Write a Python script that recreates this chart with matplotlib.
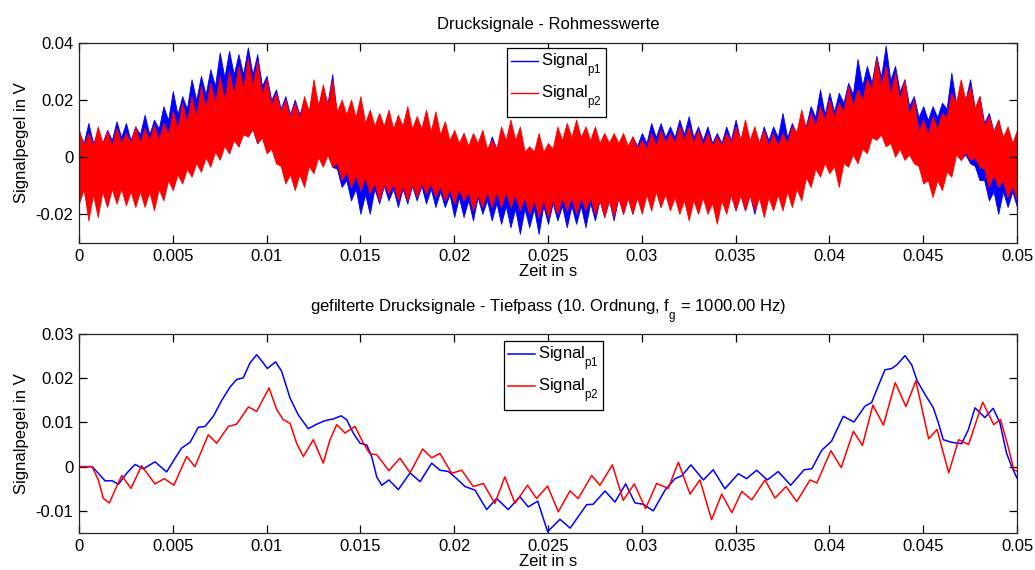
import numpy as np
import matplotlib
matplotlib.use("Agg")
import matplotlib.pyplot as plt
import matplotlib._mathtext as mtext
from matplotlib.ticker import FuncFormatter

plt.rcParams['font.family'] = ['Liberation Sans', 'DejaVu Sans']
plt.rcParams['mathtext.fontset'] = 'custom'
plt.rcParams['mathtext.rm'] = 'Liberation Sans'
plt.rcParams['mathtext.it'] = 'Liberation Sans:italic'
# lower subscripts a bit more, like the usual tex-style indices
mtext.FontConstantsBase.subdrop = 1.6
mtext.FontConstantsBase.sub1 = 0.9

# %% raw signals: spike tops / bottoms every 0.5 ms ...
t_raw = np.linspace(0, 0.05, 101)

p1_hi = [0.0085, 0.0120, 0.0085, 0.0096, 0.0126, 0.0120, 0.0108, 0.0149, 0.0132, 0.0179,
         0.0232, 0.0214, 0.0273, 0.0285, 0.0308, 0.0367, 0.0373, 0.0361, 0.0385, 0.0361,
         0.0285, 0.0238, 0.0214, 0.0202, 0.0202, 0.0244, 0.0238, 0.0291, 0.0179, 0.0179,
         0.0191, 0.0155, 0.0144, 0.0132, 0.0120, 0.0132, 0.0120, 0.0108, 0.0096, 0.0085,
         0.0073, 0.0085, 0.0049, 0.0061, 0.0073, 0.0073, 0.0061, 0.0049, 0.0038, 0.0038,
         0.0049, 0.0061, 0.0073, 0.0061, 0.0049, 0.0061, 0.0049, 0.0061, 0.0061, 0.0073,
         0.0085, 0.0120, 0.0120, 0.0108, 0.0132, 0.0144, 0.0108, 0.0108, 0.0085, 0.0108,
         0.0132, 0.0108, 0.0096, 0.0108, 0.0108, 0.0155, 0.0120, 0.0132, 0.0179, 0.0238,
         0.0226, 0.0226, 0.0261, 0.0344, 0.0320, 0.0355, 0.0391, 0.0320, 0.0273, 0.0214,
         0.0179, 0.0179, 0.0191, 0.0296, 0.0238, 0.0273, 0.0214, 0.0155, 0.0132, 0.0096,
         0.0073]
p1_lo = [-0.0151, -0.0198, -0.0151, -0.0168, -0.0139, -0.0139, -0.0127, -0.0127, -0.0162, -0.0139,
         -0.0104, -0.0080, -0.0056, -0.0033, -0.0021, 0.0002, 0.0014, 0.0038, 0.0073, 0.0049,
         0.0026, -0.0009, -0.0080, -0.0080, -0.0068, -0.0039, -0.0021, -0.0033, -0.0104, -0.0151,
         -0.0198, -0.0198, -0.0162, -0.0151, -0.0174, -0.0162, -0.0151, -0.0162, -0.0174, -0.0174,
         -0.0209, -0.0209, -0.0221, -0.0198, -0.0221, -0.0233, -0.0245, -0.0268, -0.0245, -0.0268,
         -0.0233, -0.0221, -0.0245, -0.0233, -0.0245, -0.0221, -0.0209, -0.0221, -0.0198, -0.0198,
         -0.0186, -0.0162, -0.0174, -0.0162, -0.0151, -0.0151, -0.0174, -0.0186, -0.0174, -0.0174,
         -0.0186, -0.0186, -0.0198, -0.0174, -0.0174, -0.0174, -0.0104, -0.0080, -0.0045, -0.0033,
         -0.0021, -0.0009, 0.0026, 0.0038, 0.0061, 0.0073, 0.0085, 0.0061, 0.0049, 0.0002,
         -0.0033, -0.0033, -0.0009, 0.0002, -0.0009, -0.0021, -0.0080, -0.0151, -0.0198, -0.0174,
         -0.0174]
p2_hi = [0.0096, 0.0085, 0.0108, 0.0091, 0.0102, 0.0085, 0.0108, 0.0102, 0.0114, 0.0120,
         0.0161, 0.0191, 0.0214, 0.0249, 0.0261, 0.0285, 0.0302, 0.0320, 0.0349, 0.0338,
         0.0273, 0.0226, 0.0202, 0.0191, 0.0214, 0.0273, 0.0255, 0.0273, 0.0202, 0.0202,
         0.0214, 0.0167, 0.0155, 0.0167, 0.0149, 0.0179, 0.0144, 0.0167, 0.0161, 0.0126,
         0.0096, 0.0085, 0.0085, 0.0096, 0.0061, 0.0108, 0.0132, 0.0108, 0.0038, 0.0085,
         0.0049, 0.0108, 0.0120, 0.0132, 0.0108, 0.0108, 0.0085, 0.0085, 0.0085, 0.0073,
         0.0061, 0.0085, 0.0096, 0.0085, 0.0108, 0.0108, 0.0096, 0.0085, 0.0073, 0.0085,
         0.0108, 0.0132, 0.0108, 0.0096, 0.0085, 0.0085, 0.0108, 0.0167, 0.0155, 0.0179,
         0.0202, 0.0191, 0.0249, 0.0238, 0.0273, 0.0344, 0.0320, 0.0296, 0.0273, 0.0202,
         0.0132, 0.0144, 0.0155, 0.0226, 0.0273, 0.0249, 0.0214, 0.0144, 0.0132, 0.0108,
         0.0096]
p2_lo = [-0.0162, -0.0221, -0.0209, -0.0174, -0.0162, -0.0168, -0.0174, -0.0174, -0.0186, -0.0151,
         -0.0115, -0.0092, -0.0068, -0.0051, -0.0033, -0.0009, 0.0014, 0.0038, 0.0073, 0.0049,
         0.0014, -0.0021, -0.0092, -0.0115, -0.0104, -0.0056, -0.0033, -0.0033, -0.0080, -0.0104,
         -0.0115, -0.0127, -0.0151, -0.0127, -0.0151, -0.0151, -0.0139, -0.0127, -0.0139, -0.0151,
         -0.0162, -0.0151, -0.0186, -0.0174, -0.0174, -0.0174, -0.0174, -0.0186, -0.0198, -0.0209,
         -0.0209, -0.0198, -0.0186, -0.0198, -0.0186, -0.0198, -0.0209, -0.0209, -0.0198, -0.0198,
         -0.0198, -0.0186, -0.0174, -0.0186, -0.0198, -0.0221, -0.0198, -0.0198, -0.0233, -0.0198,
         -0.0186, -0.0186, -0.0186, -0.0209, -0.0186, -0.0186, -0.0174, -0.0151, -0.0104, -0.0068,
         -0.0056, -0.0104, -0.0033, -0.0021, 0.0014, 0.0061, 0.0038, 0.0002, -0.0009, -0.0021,
         -0.0092, -0.0139, -0.0115, -0.0068, -0.0009, -0.0009, -0.0033, -0.0104, -0.0104, -0.0139,
         -0.0151]

# ... and the edge of the dense core in between (t = 0.25 ms, 0.75 ms, ...)
p1_hi_core = [0.005, 0.005, 0.005, 0.006, 0.007, 0.006, 0.008, 0.008, 0.010, 0.013,
              0.015, 0.017, 0.020, 0.022, 0.025, 0.028, 0.029, 0.029, 0.029, 0.025,
              0.020, 0.017, 0.015, 0.015, 0.016, 0.018, 0.019, 0.014, 0.013, 0.013,
              0.011, 0.009, 0.008, 0.007, 0.007, 0.007, 0.006, 0.005, 0.004, 0.003,
              0.003, 0.002, 0.001, 0.002, 0.003, 0.002, 0.001, 0.000, 0.000, 0.000,
              0.001, 0.002, 0.002, 0.001, 0.001, 0.001, 0.001, 0.002, 0.003, 0.004,
              0.005, 0.007, 0.007, 0.007, 0.008, 0.007, 0.006, 0.005, 0.005, 0.006,
              0.006, 0.005, 0.005, 0.006, 0.007, 0.007, 0.008, 0.011, 0.014, 0.015,
              0.016, 0.019, 0.022, 0.025, 0.026, 0.028, 0.027, 0.023, 0.018, 0.014,
              0.013, 0.014, 0.017, 0.019, 0.020, 0.017, 0.012, 0.009, 0.006, 0.004]
p1_lo_core = [-0.011, -0.012, -0.011, -0.010, -0.009, -0.009, -0.009, -0.010, -0.010, -0.007,
              -0.005, -0.003, -0.001, 0.001, 0.003, 0.005, 0.007, 0.010, 0.010, 0.007,
              0.004, -0.002, -0.004, -0.003, -0.001, 0.001, 0.001, -0.004, -0.008, -0.011,
              -0.013, -0.011, -0.010, -0.011, -0.011, -0.010, -0.010, -0.011, -0.012, -0.013,
              -0.014, -0.015, -0.014, -0.015, -0.016, -0.017, -0.018, -0.018, -0.018, -0.017,
              -0.016, -0.017, -0.017, -0.017, -0.016, -0.015, -0.015, -0.014, -0.014, -0.013,
              -0.012, -0.011, -0.011, -0.010, -0.010, -0.011, -0.012, -0.012, -0.012, -0.013,
              -0.013, -0.013, -0.013, -0.012, -0.012, -0.007, -0.005, -0.002, -0.001, 0.000,
              0.001, 0.004, 0.006, 0.008, 0.010, 0.011, 0.010, 0.008, 0.005, 0.001,
              -0.001, 0.001, 0.003, 0.002, 0.001, -0.003, -0.008, -0.012, -0.012, -0.012]
p2_hi_core = [0.004, 0.004, 0.005, 0.004, 0.005, 0.005, 0.005, 0.006, 0.006, 0.008,
              0.010, 0.012, 0.014, 0.017, 0.019, 0.020, 0.022, 0.024, 0.025, 0.022,
              0.018, 0.016, 0.014, 0.014, 0.016, 0.018, 0.018, 0.016, 0.015, 0.014,
              0.012, 0.011, 0.011, 0.010, 0.011, 0.010, 0.010, 0.009, 0.008, 0.006,
              0.005, 0.004, 0.005, 0.003, 0.003, 0.006, 0.006, 0.002, 0.002, 0.002,
              0.003, 0.006, 0.007, 0.007, 0.006, 0.005, 0.005, 0.005, 0.004, 0.003,
              0.003, 0.004, 0.005, 0.005, 0.006, 0.005, 0.004, 0.004, 0.004, 0.005,
              0.006, 0.006, 0.005, 0.004, 0.004, 0.005, 0.009, 0.010, 0.011, 0.013,
              0.014, 0.016, 0.018, 0.020, 0.024, 0.025, 0.022, 0.020, 0.015, 0.009,
              0.008, 0.010, 0.014, 0.019, 0.020, 0.017, 0.011, 0.009, 0.007, 0.005]
p2_lo_core = [-0.011, -0.013, -0.012, -0.011, -0.011, -0.012, -0.012, -0.012, -0.011, -0.008,
              -0.006, -0.004, -0.002, 0.000, 0.002, 0.004, 0.006, 0.008, 0.010, 0.007,
              0.003, -0.003, -0.006, -0.006, -0.003, 0.000, 0.001, -0.002, -0.005, -0.006,
              -0.007, -0.009, -0.009, -0.009, -0.010, -0.009, -0.009, -0.009, -0.010, -0.011,
              -0.011, -0.012, -0.013, -0.012, -0.012, -0.012, -0.013, -0.014, -0.015, -0.015,
              -0.015, -0.014, -0.014, -0.014, -0.014, -0.015, -0.015, -0.014, -0.014, -0.014,
              -0.013, -0.012, -0.013, -0.014, -0.015, -0.015, -0.014, -0.016, -0.015, -0.013,
              -0.013, -0.013, -0.014, -0.014, -0.013, -0.012, -0.011, -0.007, -0.004, -0.002,
              -0.003, -0.002, 0.001, 0.003, 0.007, 0.008, 0.005, 0.003, 0.001, -0.003,
              -0.008, -0.008, -0.005, 0.001, 0.002, 0.000, -0.004, -0.006, -0.008, -0.010]

# %% low-pass filtered signals (turning points)
t_f1 = [0.0, 0.0007, 0.00103, 0.00139, 0.00178, 0.0021, 0.00254, 0.00299, 0.00343, 0.00405,
        0.00467, 0.00512, 0.00547, 0.00592, 0.00636, 0.00672, 0.00716, 0.00761, 0.00805, 0.0084,
        0.00876, 0.00912, 0.00947, 0.00974, 0.01004, 0.01048, 0.0108, 0.01125, 0.01169, 0.01222,
        0.01267, 0.01311, 0.01356, 0.01397, 0.01427, 0.01462, 0.01498, 0.01534, 0.0156, 0.01587,
        0.01614, 0.01652, 0.01702, 0.01765, 0.01818, 0.0188, 0.01924, 0.01969, 0.02013, 0.02058,
        0.02111, 0.02173, 0.02226, 0.02288, 0.0235, 0.02395, 0.02445, 0.02498, 0.02564, 0.02618,
        0.02706, 0.02741, 0.02804, 0.02857, 0.02914, 0.02964, 0.03008, 0.03061, 0.03124, 0.03177,
        0.03212, 0.03262, 0.03328, 0.03381, 0.03443, 0.03514, 0.03559, 0.03612, 0.03669, 0.03727,
        0.03794, 0.03865, 0.03906, 0.03959, 0.04012, 0.04074, 0.04131, 0.0419, 0.04225, 0.04261,
        0.04296, 0.04332, 0.04359, 0.04403, 0.04439, 0.04468, 0.04509, 0.04554, 0.04581, 0.04607,
        0.04652, 0.04705, 0.04741, 0.04776, 0.04829, 0.04873, 0.04909, 0.04944, 0.04971, 0.05]
v_f1 = [0.0, 0.0, -0.0015, -0.0032, -0.0032, -0.0040, -0.0015, 0.0005, -0.0005, 0.0011,
        -0.0012, 0.0019, 0.0042, 0.0055, 0.0089, 0.0091, 0.0114, 0.0150, 0.0180, 0.0197,
        0.0201, 0.0235, 0.0253, 0.0239, 0.0222, 0.0237, 0.0216, 0.0155, 0.0117, 0.0086,
        0.0096, 0.0104, 0.0108, 0.0115, 0.0106, 0.0076, 0.0053, 0.0049, 0.0023, -0.0023,
        -0.0042, -0.0030, -0.0052, -0.0014, -0.0034, 0.0008, -0.0008, -0.0011, -0.0027, -0.0045,
        -0.0053, -0.0097, -0.0072, -0.0097, -0.0068, -0.0091, -0.0078, -0.0147, -0.0119, -0.0139,
        -0.0086, -0.0085, -0.0055, -0.0080, -0.0039, -0.0082, -0.0085, -0.0100, -0.0053, -0.0027,
        -0.0021, 0.0004, -0.0030, -0.0007, -0.0050, -0.0016, -0.0027, -0.0008, -0.0030, -0.0011,
        -0.0042, -0.0007, -0.0005, 0.0037, 0.0058, 0.0114, 0.0101, 0.0137, 0.0145, 0.0183,
        0.0219, 0.0222, 0.0230, 0.0251, 0.0230, 0.0194, 0.0164, 0.0133, 0.0099, 0.0061,
        0.0055, 0.0052, 0.0084, 0.0133, 0.0111, 0.0132, 0.0099, 0.0031, 0.0001, -0.0026]

t_f2 = [0.0, 0.0007, 0.00103, 0.0013, 0.00162, 0.00192, 0.00228, 0.00277, 0.00334, 0.00405,
        0.00455, 0.00506, 0.00574, 0.00618, 0.00689, 0.00734, 0.00796, 0.0084, 0.00903, 0.00947,
        0.01013, 0.01054, 0.01089, 0.01125, 0.0116, 0.01196, 0.01249, 0.01302, 0.01338, 0.01374,
        0.01418, 0.01471, 0.01516, 0.01551, 0.01587, 0.01652, 0.01711, 0.01765, 0.01832, 0.0188,
        0.01924, 0.01987, 0.0204, 0.02102, 0.02155, 0.02217, 0.0227, 0.02324, 0.02391, 0.02439,
        0.02498, 0.02555, 0.02617, 0.02661, 0.02733, 0.02777, 0.02843, 0.02901, 0.0296, 0.0302,
        0.03079, 0.03141, 0.03195, 0.03257, 0.0331, 0.03372, 0.03426, 0.0348, 0.03533, 0.03586,
        0.03657, 0.0371, 0.03769, 0.03826, 0.03897, 0.03933, 0.04008, 0.04063, 0.04128, 0.04176,
        0.04232, 0.04288, 0.04351, 0.04408, 0.04461, 0.04529, 0.04574, 0.04636, 0.04689, 0.04742,
        0.04817, 0.04876, 0.04912, 0.04956, 0.04983, 0.05]
v_f2 = [0.0, 0.0, -0.0030, -0.0072, -0.0082, -0.0053, -0.0020, -0.0049, 0.0002, -0.0039,
        -0.0027, -0.0042, 0.0023, 0.0000, 0.0072, 0.0053, 0.0091, 0.0096, 0.0135, 0.0125,
        0.0178, 0.0129, 0.0106, 0.0098, 0.0053, 0.0023, 0.0061, 0.0008, 0.0061, 0.0095,
        0.0076, 0.0091, 0.0053, 0.0029, 0.0027, -0.0009, 0.0019, -0.0014, 0.0040, 0.0020,
        0.0030, -0.0015, -0.0008, -0.0045, -0.0038, -0.0083, -0.0023, -0.0083, -0.0042, -0.0072,
        -0.0044, -0.0102, -0.0055, -0.0072, -0.0020, -0.0042, 0.0004, -0.0076, -0.0039, -0.0095,
        -0.0038, -0.0049, 0.0010, -0.0062, -0.0030, -0.0120, -0.0062, -0.0104, -0.0056, -0.0075,
        -0.0030, -0.0071, -0.0045, -0.0079, -0.0030, -0.0037, 0.0036, -0.0002, 0.0080, 0.0048,
        0.0139, 0.0094, 0.0190, 0.0136, 0.0194, 0.0063, 0.0084, -0.0014, 0.0061, 0.0050,
        0.0146, 0.0095, 0.0107, 0.0040, -0.0007, -0.0010]

labels = ["Signal$_{\\mathrm{p1}}$", "Signal$_{\\mathrm{p2}}$"]
fs = 12


def interleave(a, b):
    # a on the 0.5 ms grid, b on the points in between
    out = np.empty(len(a) + len(b))
    out[0::2] = a
    out[1::2] = b
    return out


def style_axes(ax, yticks):
    ax.set_xlim(0, 0.05)
    ax.set_xticks(np.arange(0, 0.0501, 0.005))
    ax.set_yticks(yticks)
    fmt = FuncFormatter(lambda v, pos: "%g" % round(v, 6))
    ax.xaxis.set_major_formatter(fmt)
    ax.yaxis.set_major_formatter(fmt)
    ax.tick_params(direction="in", top=True, right=True, length=6, width=0.9,
                   labelsize=fs, pad=4)
    for s in ax.spines.values():
        s.set_linewidth(0.9)
        s.set_color("#262626")
    ax.set_xlabel("Zeit in s", fontsize=fs, labelpad=0)
    ax.set_ylabel("Signalpegel in V", fontsize=fs, labelpad=5)


fig = plt.figure(figsize=(10.35, 5.7), dpi=100)
ax1 = fig.add_axes([79 / 1035, 1 - 243 / 570, 938 / 1035, 200 / 570])
ax2 = fig.add_axes([79 / 1035, 1 - 533 / 570, 938 / 1035, 199 / 570])

# top: raw measurement
t_fine = interleave(t_raw, t_raw[:-1] + 0.00025)
ax1.fill_between(t_fine, interleave(p1_lo, p1_lo_core), interleave(p1_hi, p1_hi_core),
                 color="blue", lw=0.6)
ax1.fill_between(t_fine, interleave(p2_lo, p2_lo_core), interleave(p2_hi, p2_hi_core),
                 color="red", lw=0.6)
ax1.plot([], [], color="blue", lw=1, label=labels[0])
ax1.plot([], [], color="red", lw=1, label=labels[1])
ax1.set_ylim(-0.03, 0.04)
style_axes(ax1, [-0.02, 0, 0.02, 0.04])
ax1.set_title("Drucksignale - Rohmesswerte", fontsize=fs, pad=10)

# bottom: filtered
ax2.plot(t_f1, v_f1, color="blue", lw=1.1, label=labels[0], solid_joinstyle="round")
ax2.plot(t_f2, v_f2, color="red", lw=1.1, label=labels[1], solid_joinstyle="round")
ax2.set_ylim(-0.015, 0.03)
style_axes(ax2, [-0.01, 0, 0.01, 0.02, 0.03])
ax2.set_title("gefilterte Drucksignale - Tiefpass (10. Ordnung, f$_{\\mathrm{g}}$ = 1000.00 Hz)",
              fontsize=fs, pad=15)

for ax, x0, y0 in ((ax1, 507, 48), (ax2, 504, 341)):
    fx = x0 / 1035
    fy = 1 - y0 / 570
    leg = ax.legend(loc="upper left", bbox_to_anchor=(fx, fy), bbox_transform=fig.transFigure,
                    fontsize=fs, handlelength=1.6, handletextpad=0.2, borderpad=0.25,
                    labelspacing=0.25, borderaxespad=0, fancybox=False, framealpha=1)
    leg.get_frame().set_edgecolor("black")
    leg.get_frame().set_linewidth(0.9)

fig.savefig("out.png", dpi=100)
